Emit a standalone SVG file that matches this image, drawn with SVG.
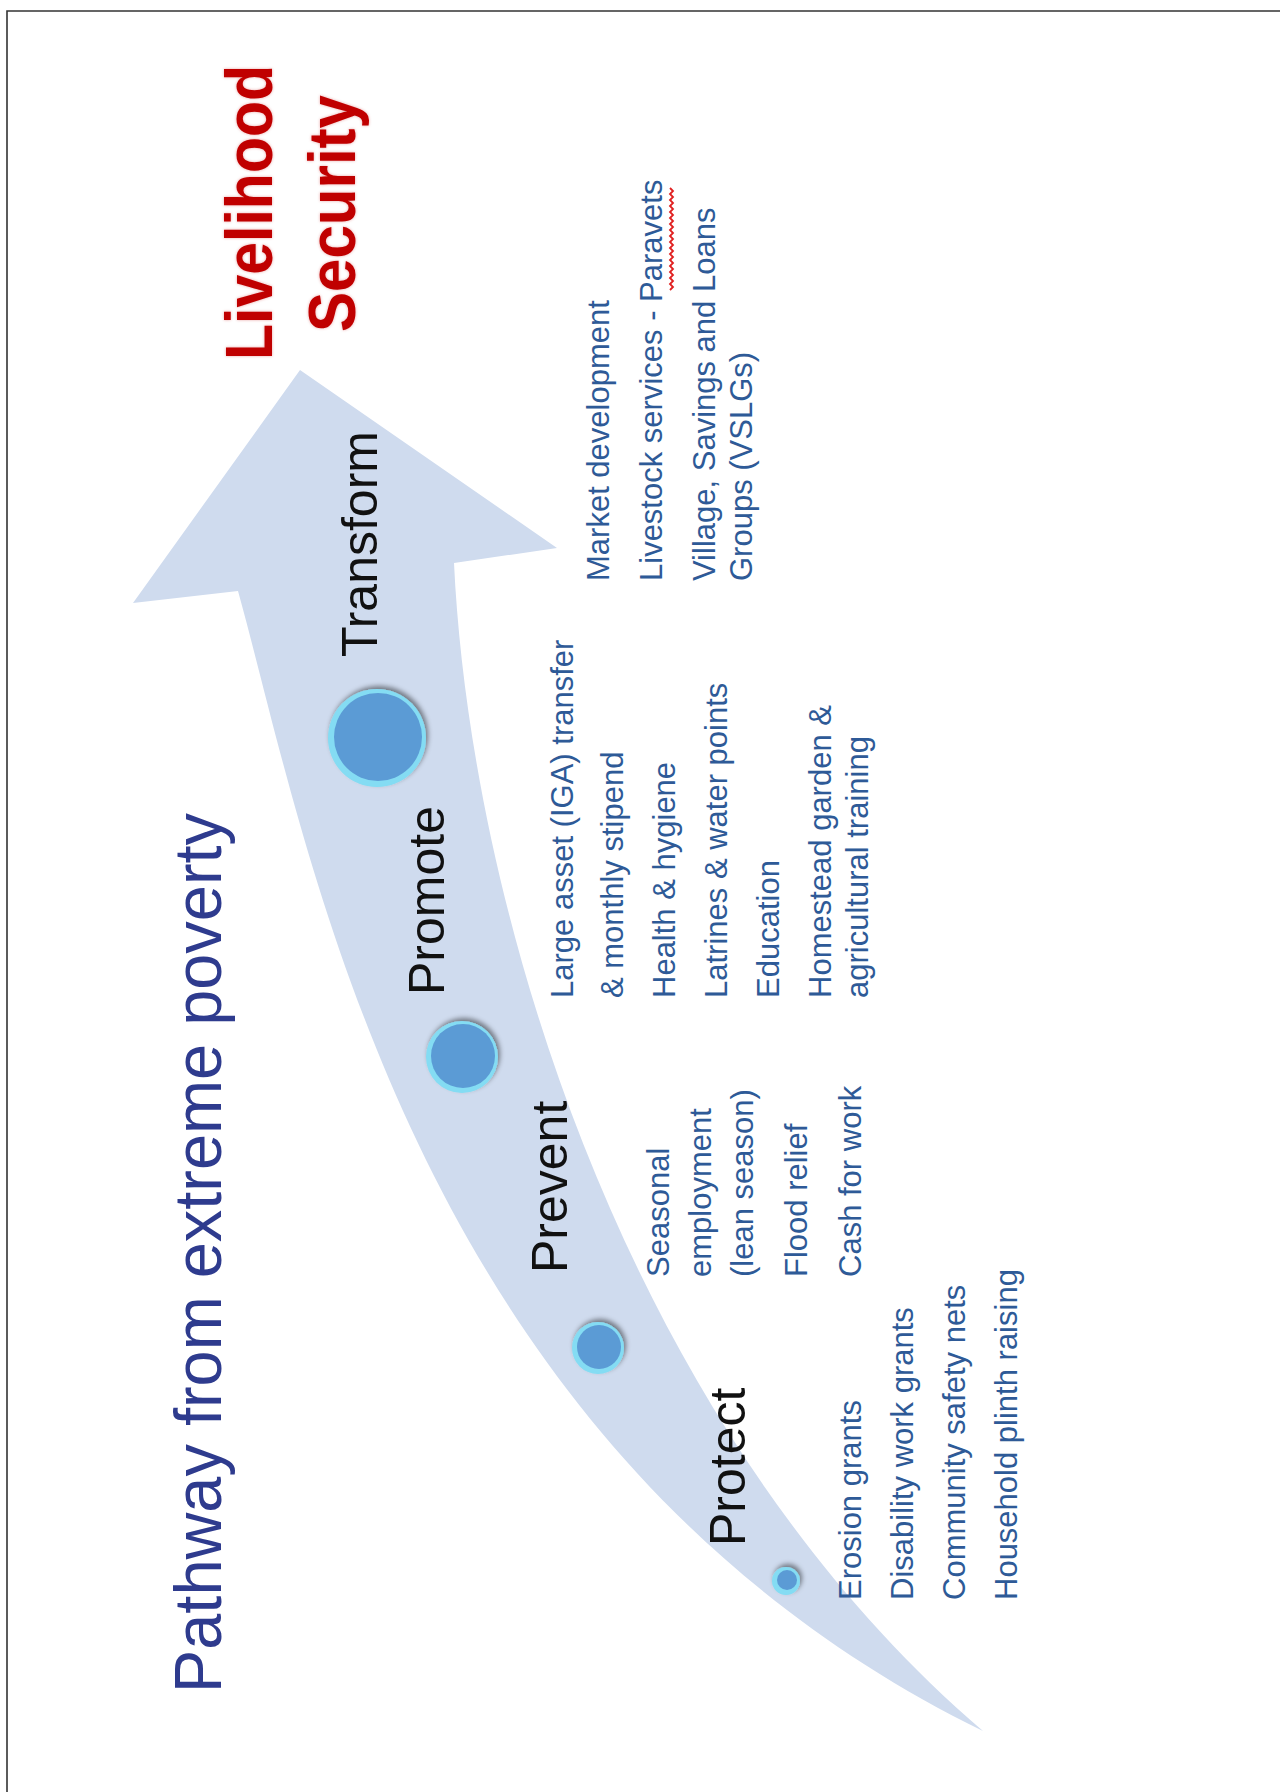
<svg xmlns="http://www.w3.org/2000/svg" width="1280" height="1792" viewBox="0 0 1280 1792">
<style>
.lbl{font-family:"Liberation Sans",Arial,sans-serif;font-size:50px;fill:#111}
.item{font-family:"Liberation Sans",Arial,sans-serif;font-size:31px;fill:#2E5A97}
.title{font-family:"Liberation Sans",Arial,sans-serif;font-size:66px;fill:#2E3B8E}
.goal{font-family:"Liberation Sans",Arial,sans-serif;font-size:66px;font-weight:bold;fill:#C00000}
.ring{fill:#84DCF3}
.dot{fill:#5B9BD5}
</style>
<defs>
<filter id="sh" x="-40%" y="-40%" width="180%" height="180%">
<feDropShadow dx="2" dy="-3" stdDeviation="2.5" flood-color="#000" flood-opacity="0.45"/>
</filter>
<filter id="glow" x="-10%" y="-10%" width="120%" height="120%">
<feDropShadow dx="0" dy="0" stdDeviation="1.5" flood-color="#C00000" flood-opacity="0.35"/>
</filter>
</defs>
<rect width="1280" height="1792" fill="#fff"/>
<polyline points="7,1792 7,11 1280,11" fill="none" stroke="#333" stroke-width="1.6"/>

<g id="connectors">
<path id="pathway-arrow" d="M300,370 L557,548 L454,563 C470,900 620,1420 983,1731 C410,1450 310,850 238,591 L133,603 Z" fill="#CFDBEE"/>
</g>

<g id="title">
<text class="title" transform="rotate(-90)" x="-1693" y="221" textLength="880" lengthAdjust="spacingAndGlyphs">Pathway from extreme poverty</text>
</g>

<g id="goal" filter="url(#glow)">
<text class="goal" transform="rotate(-90)" x="-360" y="272" textLength="295" lengthAdjust="spacingAndGlyphs">Livelihood</text>
<text class="goal" transform="rotate(-90)" x="-332" y="355" textLength="237" lengthAdjust="spacingAndGlyphs">Security</text>
</g>

<g id="transform">
<g filter="url(#sh)"><circle class="ring" cx="377" cy="738" r="49"/></g>
<circle class="dot" cx="378" cy="737" r="44"/>
<g transform="rotate(-90)">
<text class="lbl" x="-657" y="377">Transform</text>
<text class="item" x="-581" y="609">Market development</text>
<text class="item" x="-581" y="662">Livestock services - Paravets</text>
<text class="item" x="-581" y="715">Village, Savings and Loans</text>
<text class="item" x="-581" y="752">Groups (VSLGs)</text>
</g>
<path d="M670,290 l3,-3 l-3,-3 l3,-3 l-3,-3 l3,-3 l-3,-3 l3,-3 l-3,-3 l3,-3 l-3,-3 l3,-3 l-3,-3 l3,-3 l-3,-3 l3,-3 l-3,-3 l3,-3 l-3,-3 l3,-3 l-3,-3 l3,-3 l-3,-3 l3,-3 l-3,-3 l3,-3 l-3,-3 l3,-3 l-3,-3 l3,-3 l-3,-3 l3,-3 l-3,-3 l3,-3 l-3,-3" fill="none" stroke="#E02020" stroke-width="1.8"/>
</g>

<g id="promote">
<g filter="url(#sh)"><circle class="ring" cx="462" cy="1057" r="36"/></g>
<circle class="dot" cx="463" cy="1056" r="32"/>
<g transform="rotate(-90)">
<text class="lbl" x="-995" y="444">Promote</text>
<text class="item" x="-998" y="573">Large asset (IGA) transfer</text>
<text class="item" x="-998" y="623">&amp; monthly stipend</text>
<text class="item" x="-998" y="675">Health &amp; hygiene</text>
<text class="item" x="-998" y="727">Latrines &amp; water points</text>
<text class="item" x="-998" y="779">Education</text>
<text class="item" x="-998" y="831">Homestead garden &amp;</text>
<text class="item" x="-998" y="868">agricultural training</text>
</g>
</g>

<g id="prevent">
<g filter="url(#sh)"><circle class="ring" cx="598" cy="1348" r="26"/></g>
<circle class="dot" cx="599" cy="1347" r="22"/>
<g transform="rotate(-90)">
<text class="lbl" x="-1273" y="567">Prevent</text>
<text class="item" x="-1277" y="669">Seasonal</text>
<text class="item" x="-1277" y="711">employment</text>
<text class="item" x="-1277" y="753">(lean season)</text>
<text class="item" x="-1277" y="807">Flood relief</text>
<text class="item" x="-1277" y="861">Cash for work</text>
</g>
</g>

<g id="protect">
<g filter="url(#sh)"><circle class="ring" cx="786" cy="1581" r="14"/></g>
<circle class="dot" cx="787" cy="1580" r="10"/>
<g transform="rotate(-90)">
<text class="lbl" x="-1546" y="745">Protect</text>
<text class="item" x="-1600" y="861">Erosion grants</text>
<text class="item" x="-1600" y="913">Disability work grants</text>
<text class="item" x="-1600" y="965">Community safety nets</text>
<text class="item" x="-1600" y="1017">Household plinth raising</text>
</g>
</g>
</svg>
